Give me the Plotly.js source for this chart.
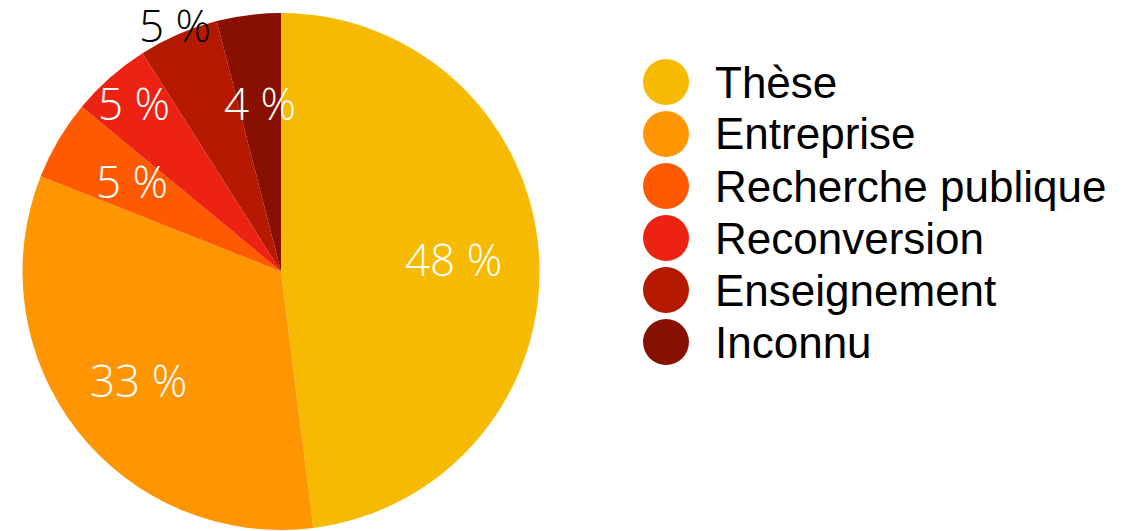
<!DOCTYPE html>
<html>
<head>
<meta charset="utf-8">
<script src="https://cdn.plot.ly/plotly-3.0.1.min.js"></script>
<style>html,body{margin:0;padding:0;background:#fff;}#chart{width:1132px;height:531px;}</style>
</head>
<body>
<div id="chart"></div>
<script>
const categories = ["Thèse", "Entreprise", "Recherche publique", "Reconversion", "Enseignement", "Inconnu"];
const percentages = [48, 33, 5, 5, 5, 4];
const colors = ["#F6BA00", "#FF9500", "#FF5A00", "#EC2212", "#B51A00", "#881000"];
// label styling: radial position (fraction of radius) and colour of each slice label
const labelRadius = [0.67, 0.70, 0.67, 0.86, 1.03, 0.65];
const labelColors = ["#ffffff", "#ffffff", "#ffffff", "#ffffff", "#000000", "#ffffff"];

const W = 1132, H = 531;
const cx = 281, cy = 271.5, R = 258.5;

const pie = {
  type: "pie",
  labels: categories,
  values: percentages,
  sort: false,
  direction: "clockwise",
  rotation: 0,
  marker: {colors: colors, line: {width: 0}},
  textinfo: "none",
  hoverinfo: "label+percent",
  showlegend: false,
  domain: {x: [(cx - R) / W, (cx + R) / W], y: [(H - cy - R) / H, (H - cy + R) / H]}
};

// slice labels placed at the slice mid-angle computed from the values
const total = percentages.reduce((a, b) => a + b, 0);
let cum = 0;
const sliceLabels = percentages.map((v, i) => {
  const mid = (cum + v / 2) / total * 2 * Math.PI;
  cum += v;
  const r = R * labelRadius[i];
  return {
    text: v + " %", xref: "paper", yref: "paper",
    x: (cx + r * Math.sin(mid)) / W, y: 1 - (cy - r * Math.cos(mid)) / H,
    xanchor: "center", yanchor: "middle", showarrow: false, yshift: 2,
    font: {size: 44, color: labelColors[i], family: "'Open Sans', Roboto, sans-serif", weight: 300}
  };
});

// Custom legend: large circles + labels
const legX = 666, legY0 = 82, legStep = 52, legD = 46, textX = 713;
const shapes = categories.map((c, i) => ({
  type: "circle", xref: "paper", yref: "paper",
  xsizemode: "pixel", ysizemode: "pixel",
  xanchor: legX / W, yanchor: 1 - (legY0 + i * legStep) / H,
  x0: -legD / 2, x1: legD / 2, y0: -legD / 2, y1: legD / 2,
  fillcolor: colors[i], line: {width: 0}
}));
const legendLabels = categories.map((c, i) => ({
  text: c, xref: "paper", yref: "paper",
  x: textX / W, y: 1 - (legY0 + i * legStep) / H,
  xanchor: "left", yanchor: "middle", showarrow: false,
  font: {size: 44, color: "#000000", family: "'Liberation Sans', Arial, sans-serif"}
}));

const layout = {
  width: W, height: H,
  margin: {l: 0, r: 0, t: 0, b: 0},
  paper_bgcolor: "#ffffff",
  showlegend: false,
  shapes: shapes,
  annotations: sliceLabels.concat(legendLabels)
};

Plotly.newPlot("chart", [pie], layout, {displayModeBar: false, staticPlot: true});
</script>
</body>
</html>
